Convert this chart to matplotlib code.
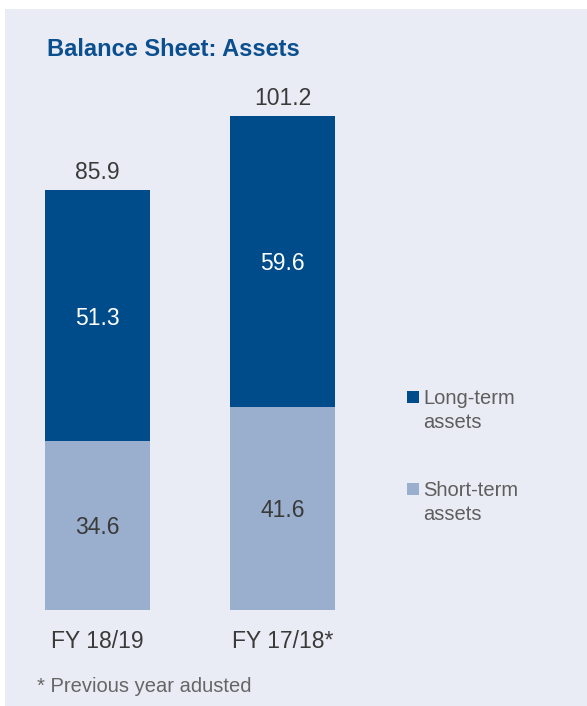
import matplotlib
matplotlib.use("Agg")
import matplotlib.pyplot as plt
from matplotlib.patches import Rectangle

plt.rcParams['font.family'] = ['Liberation Sans', 'DejaVu Sans']

# Data
categories = ["FY 18/19", "FY 17/18*"]
short_term = [34.6, 41.6]
long_term = [51.3, 59.6]
totals = [85.9, 101.2]
series_names = ["Long-term\nassets", "Short-term\nassets"]

title = "Balance Sheet: Assets"
footnote = "* Previous year adusted"

# Colours
bg = "#E9ECF4"
dark_blue = "#004C8A"
light_blue = "#9AAFCE"
title_col = "#0B4F8E"
text_dark = "#3A3A3A"
text_grey = "#5E5E5E"

W, H = 587, 706
fig = plt.figure(figsize=(W / 100, H / 100), dpi=100, facecolor="white")


def fx(px):
    return px / W


def fy(py):
    return 1 - py / H


# Panel background
fig.patches.append(Rectangle((fx(5), 0), 1 - fx(5), fy(9), transform=fig.transFigure,
                             facecolor=bg, edgecolor="none", zorder=-5))

# Plot area: bars sit on y=610px, 4.885 px per unit
bar_w = 105 / 185
left_px, right_px = 45, 335
bottom_px = 610
ymax = 110
top_px = bottom_px - ymax * 4.885
ax = fig.add_axes([fx(left_px), fy(bottom_px), fx(right_px - left_px), (bottom_px - top_px) / H])
ax.set_zorder(1)
ax.set_xlim(-bar_w / 2, 1 + bar_w / 2)
ax.set_ylim(0, ymax)
ax.axis("off")

x = list(range(len(categories)))
ax.bar(x, short_term, width=bar_w, color=light_blue, edgecolor="none")
ax.bar(x, long_term, width=bar_w, bottom=short_term, color=dark_blue, edgecolor="none")

for i in x:
    ax.text(i, short_term[i] / 2, f"{short_term[i]:.1f}", ha="center", va="center_baseline",
            fontsize=16.5, color=text_dark)
    ax.text(i, short_term[i] + long_term[i] / 2, f"{long_term[i]:.1f}", ha="center",
            va="center_baseline", fontsize=16.5, color="white")
    ax.annotate(f"{totals[i]:.1f}", (i, totals[i]), xytext=(0, 8), textcoords="offset points",
                ha="center", va="baseline", fontsize=16.5, color=text_dark)
    ax.annotate(categories[i], (i, 0), xytext=(0, -27.5), textcoords="offset points",
                ha="center", va="baseline", fontsize=16.5, color=text_dark,
                annotation_clip=False)

# Title
fig.text(fx(47), fy(56.5), title, fontsize=17, fontweight="bold", color=title_col,
         ha="left", va="baseline")

# Legend
legend_items = [(series_names[0], dark_blue, 391), (series_names[1], light_blue, 483)]
for label, col, sq_top in legend_items:
    fig.patches.append(Rectangle((fx(407), fy(sq_top + 12)), fx(12), 12 / H,
                                 transform=fig.transFigure, facecolor=col,
                                 edgecolor="none", zorder=2))
    lines = label.split("\n")
    for k, line in enumerate(lines):
        fig.text(fx(423), fy(sq_top + 13 + 23.5 * k), line, fontsize=14.5, color=text_grey,
                 ha="left", va="baseline")

# Footnote
fig.text(fx(37), fy(692.5), footnote, fontsize=14.5, color="#666666",
         ha="left", va="baseline")

fig.savefig("out.png", dpi=100, facecolor=fig.get_facecolor())
